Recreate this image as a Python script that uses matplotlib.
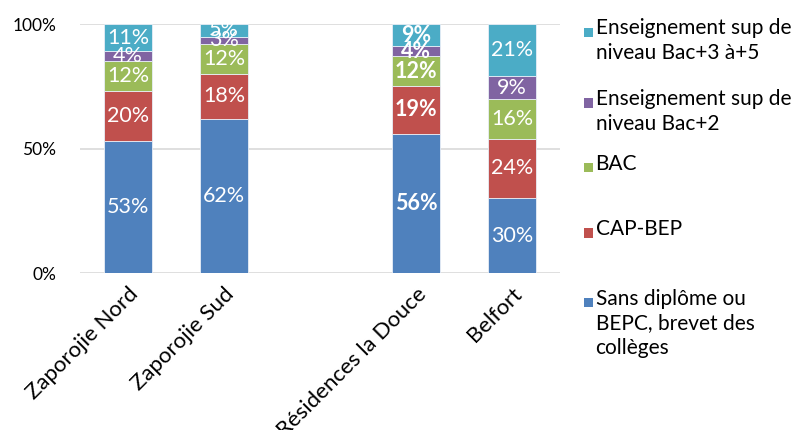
import matplotlib
matplotlib.use('Agg')
import matplotlib.pyplot as plt
import matplotlib.patches as mpatches
import numpy as np

plt.rcParams['font.family'] = ['Lato', 'DejaVu Sans']

# données (en %)
categories = ['Zaporojie Nord', 'Zaporojie Sud', '', 'Résidences la Douce', 'Belfort']
series_names = ['Sans diplôme ou\nBEPC, brevet des\ncollèges', 'CAP-BEP', 'BAC',
                'Enseignement sup de\nniveau Bac+2', 'Enseignement sup de\nniveau Bac+3 à+5']
sans_diplome = [53, 62, 0, 56, 30]
cap_bep = [20, 18, 0, 19, 24]
bac = [12, 12, 0, 12, 16]
sup_bac2 = [4, 3, 0, 4, 9]
sup_bac5 = [11, 5, 0, 9, 21]
colors = ['#4F81BD', '#C0504D', '#9BBB59', '#8064A2', '#4BACC6']
bold_cat = 'Résidences la Douce'

fig = plt.figure(figsize=(7.91, 4.30), dpi=100)
ax = fig.add_axes([0.101, 0.365, 0.607, 0.579])

x = np.arange(len(categories))
series = [sans_diplome, cap_bep, bac, sup_bac2, sup_bac5]
bottom = np.zeros(len(categories))
for vals, col in zip(series, colors):
    vals = np.array(vals, dtype=float)
    ax.bar(x, vals / 100, 0.5, bottom=bottom / 100, color=col, edgecolor='#e8eef7', linewidth=0.6, zorder=3)
    for i in range(len(categories)):
        if vals[i] > 0:
            w = 'bold' if categories[i] == bold_cat else 'normal'
            ax.text(x[i], (bottom[i] + vals[i] / 2) / 100, f'{int(vals[i])}%', ha='center', va='center',
                    color='white', fontsize=15.5, fontweight=w, zorder=4)
    bottom += vals

ax.set_xlim(-0.5, len(categories) - 0.5)
ax.set_ylim(0, 1)
ax.set_yticks([0, 0.5, 1])
ax.set_yticklabels(['0%', '50%', '100%'], fontsize=12.5)
ax.yaxis.grid(True, color='#d9d9d9', linewidth=1.2, zorder=0)
ax.set_xticks(x)
ax.set_xticklabels(categories, rotation=45, ha='right', rotation_mode='anchor', fontsize=16)
ax.tick_params(length=0)
ax.tick_params(axis='x', pad=8)
ax.tick_params(axis='y', pad=17)
for s in ax.spines.values():
    s.set_visible(False)

# légende manuelle
leg_y = [0.925, 0.760, 0.611, 0.458, 0.297]
for name, col, yy in zip(series_names[::-1], colors[::-1], leg_y):
    fig.patches.append(mpatches.Rectangle((0.738, yy - 0.011), 0.0115, 0.022, transform=fig.transFigure,
                                          facecolor=col, edgecolor='none'))
    fig.text(0.753, yy + 0.032, name, ha='left', va='top', fontsize=15, linespacing=1.3)

fig.savefig('out.png', dpi=100)
